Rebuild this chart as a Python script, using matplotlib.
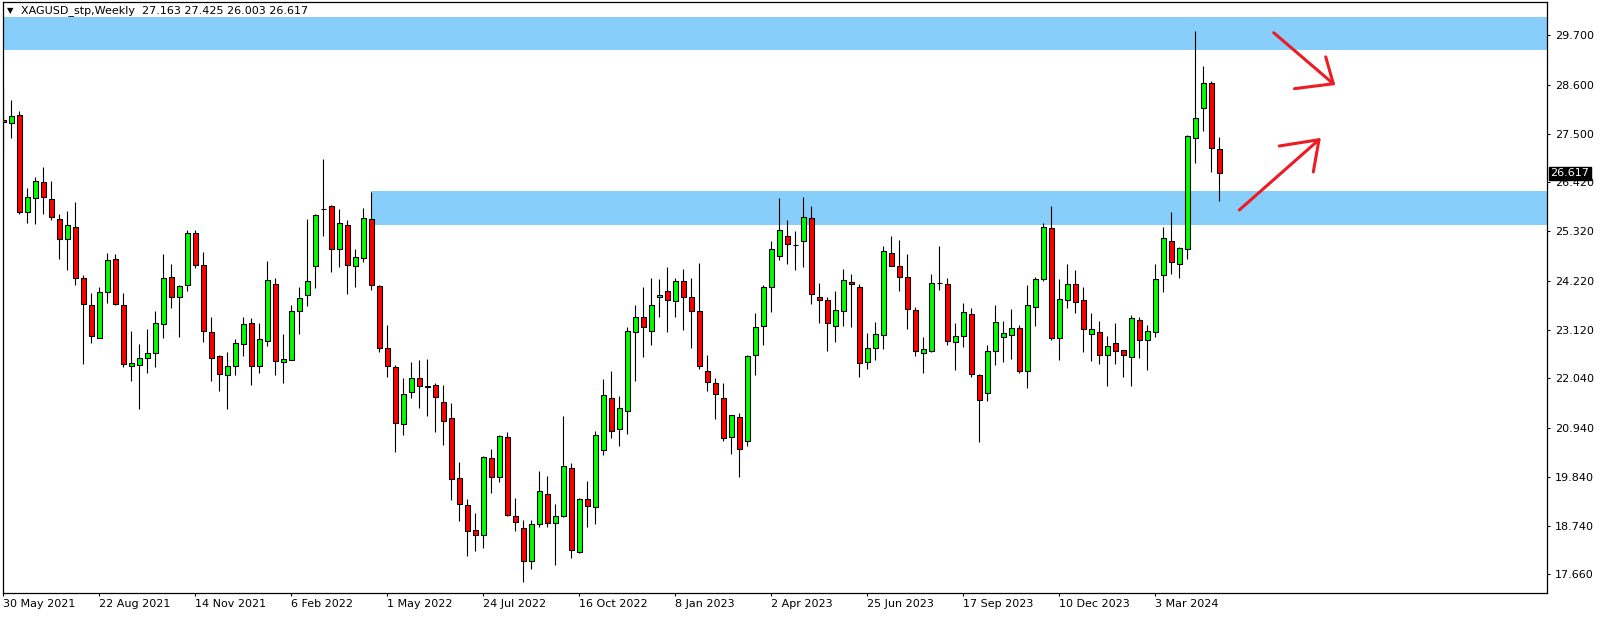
import matplotlib
matplotlib.use('Agg')
import matplotlib.pyplot as plt
import matplotlib.transforms as mtransforms
import numpy as np

# weekly OHLC, XAGUSD, one bar per week starting 30 May 2021
opens = [27.80, 27.74, 27.92, 25.75, 26.07, 26.42, 26.04, 25.59, 25.16, 25.43,
         24.29, 23.68, 22.93, 23.97, 24.71, 23.68, 22.31, 22.33, 22.49, 22.61,
         23.25, 24.31, 23.86, 24.13, 25.29, 24.58, 23.08, 22.54, 22.12, 22.31,
         22.80, 23.28, 22.31, 22.87, 24.15, 22.40, 22.46, 23.55, 23.90, 24.56,
         25.82, 25.88, 24.93, 25.47, 24.56, 24.72, 25.59, 24.11, 22.72, 22.29,
         21.01, 21.73, 22.04, 21.86, 21.88, 21.51, 21.16, 19.82, 19.21, 18.65,
         18.54, 20.27, 19.84, 20.72, 18.96, 18.70, 17.97, 18.78, 19.46, 18.81,
         18.96, 20.04, 18.16, 19.35, 19.17, 20.43, 21.59, 20.90, 21.32, 23.08,
         23.41, 23.10, 23.85, 24.00, 23.77, 24.22, 23.86, 23.55, 22.20, 21.93,
         21.60, 20.74, 21.17, 20.63, 22.55, 23.21, 24.07, 24.78, 25.23, 25.02,
         25.10, 25.61, 23.86, 23.79, 23.21, 23.55, 24.19, 24.08, 22.41, 22.72,
         23.01, 24.84, 24.56, 24.31, 23.57, 22.61, 22.66, 24.175, 24.15, 22.85,
         22.98, 23.48, 22.11, 21.71, 22.65, 22.96, 23.01, 23.16, 22.20, 23.64,
         24.26, 25.39, 22.93, 23.79, 24.15, 23.79, 23.03, 23.08, 22.56, 22.83,
         22.67, 22.52, 23.34, 22.90, 23.08, 24.35, 25.11, 24.60, 24.93, 27.40,
         28.08, 28.64, 27.163]
highs = [28.53, 28.26, 28.02, 26.29, 26.53, 26.76, 26.45, 25.72, 25.78, 25.98,
         24.34, 23.94, 24.09, 24.83, 24.81, 23.94, 23.10, 22.81, 23.15, 23.55,
         24.81, 24.59, 24.13, 25.36, 25.36, 24.86, 23.41, 22.55, 22.63, 22.91,
         23.40, 23.38, 23.28, 24.67, 24.27, 23.02, 23.68, 24.07, 25.59, 25.71,
         26.94, 25.91, 25.82, 25.57, 24.92, 25.84, 26.20, 24.13, 23.23, 22.33,
         22.04, 22.40, 22.44, 22.48, 21.94, 21.90, 21.49, 20.16, 19.35, 19.04,
         20.31, 20.46, 20.78, 20.84, 19.37, 18.88, 18.88, 19.96, 19.86, 19.24,
         21.20, 20.14, 19.37, 19.74, 20.87, 22.03, 22.21, 21.64, 23.19, 23.67,
         24.09, 24.27, 24.25, 24.52, 24.27, 24.48, 24.27, 24.61, 22.56, 22.05,
         21.93, 21.23, 21.27, 22.57, 23.49, 24.13, 25.11, 26.07, 25.58, 25.33,
         26.10, 25.88, 24.18, 23.86, 23.98, 24.49, 24.37, 24.15, 23.06, 23.29,
         24.99, 25.23, 25.12, 24.81, 23.64, 22.97, 24.37, 24.99, 24.27, 23.27,
         23.73, 23.62, 22.14, 22.79, 23.67, 23.31, 23.58, 23.22, 24.12, 24.31,
         25.51, 25.88, 24.25, 24.59, 24.45, 24.07, 23.51, 23.31, 22.99, 23.28,
         22.68, 23.46, 23.42, 23.23, 24.60, 25.41, 25.76, 24.98, 27.48, 29.79,
         29.01, 28.69, 27.425]
lows = [26.99, 27.40, 25.71, 25.51, 25.49, 25.71, 25.57, 24.71, 24.45, 24.13,
        22.35, 22.82, 22.93, 23.72, 23.68, 22.29, 21.99, 21.36, 22.15, 22.29,
        22.95, 23.60, 22.97, 23.99, 24.50, 22.86, 21.99, 21.75, 21.36, 22.12,
        22.53, 21.90, 22.16, 22.76, 22.11, 21.94, 22.44, 23.03, 23.65, 24.06,
        25.23, 24.42, 24.53, 23.92, 24.08, 24.64, 24.02, 22.63, 22.06, 20.40,
        20.77, 21.61, 21.38, 21.20, 20.84, 20.54, 19.32, 18.85, 18.07, 18.18,
        18.25, 19.48, 19.73, 18.96, 18.64, 17.48, 17.77, 18.72, 18.72, 17.88,
        18.94, 18.02, 18.14, 18.72, 18.79, 20.33, 20.70, 20.53, 20.80, 21.97,
        22.51, 22.79, 23.40, 23.08, 23.40, 23.12, 22.71, 22.24, 21.76, 21.13,
        20.65, 20.35, 19.84, 20.53, 22.11, 22.78, 23.52, 24.68, 24.59, 24.45,
        24.53, 23.70, 23.28, 22.64, 22.86, 23.21, 23.18, 22.06, 22.24, 22.45,
        22.70, 24.54, 23.99, 23.15, 22.53, 22.17, 22.62, 24.01, 22.78, 22.23,
        22.74, 22.06, 20.62, 21.53, 22.33, 22.40, 22.48, 22.16, 21.83, 23.21,
        24.21, 22.89, 22.46, 23.61, 23.49, 22.63, 22.42, 22.35, 21.87, 22.35,
        22.07, 21.87, 22.50, 22.22, 22.97, 23.96, 24.37, 24.28, 24.71, 26.84,
        27.56, 26.64, 26.003]
closes = [27.77, 27.90, 25.75, 26.08, 26.45, 26.08, 25.64, 25.16, 25.46, 24.29,
          23.70, 22.99, 23.97, 24.69, 23.70, 22.36, 22.38, 22.49, 22.61, 23.28,
          24.29, 23.85, 24.11, 25.28, 24.58, 23.10, 22.49, 22.14, 22.31, 22.83,
          23.26, 22.31, 22.91, 24.24, 22.42, 22.47, 23.55, 23.83, 24.22, 25.68,
          25.83, 24.92, 25.50, 24.58, 24.74, 25.61, 24.13, 22.72, 22.31, 21.05,
          21.70, 22.04, 21.87, 21.85, 21.63, 21.09, 19.79, 19.24, 18.64, 18.54,
          20.29, 19.84, 20.76, 18.99, 18.83, 17.97, 18.78, 19.53, 18.81, 18.96,
          20.09, 18.21, 19.35, 19.19, 20.78, 21.66, 20.87, 21.37, 23.10, 23.41,
          23.18, 23.68, 23.91, 23.79, 24.22, 23.85, 23.54, 22.31, 21.95, 21.69,
          20.70, 21.21, 20.47, 22.54, 23.19, 24.07, 24.92, 25.35, 25.05, 25.01,
          25.64, 23.92, 23.79, 23.28, 23.57, 24.24, 24.14, 22.38, 22.72, 23.03,
          24.89, 24.56, 24.31, 23.59, 22.65, 22.69, 24.18, 24.165, 22.87, 22.98,
          23.52, 22.14, 21.55, 22.65, 23.30, 23.05, 23.16, 22.20, 23.68, 24.26,
          25.43, 22.93, 23.82, 24.15, 23.75, 23.14, 23.14, 22.56, 22.76, 22.65,
          22.56, 23.39, 22.90, 23.09, 24.26, 25.17, 24.64, 24.94, 27.46, 27.85,
          28.64, 27.18, 26.617]

date_labels = ['30 May 2021', '22 Aug 2021', '14 Nov 2021', '6 Feb 2022', '1 May 2022',
               '24 Jul 2022', '16 Oct 2022', '8 Jan 2023', '2 Apr 2023', '25 Jun 2023',
               '17 Sep 2023', '10 Dec 2023', '3 Mar 2024']
price_ticks = [17.66, 18.74, 19.84, 20.94, 22.04, 23.12, 24.22, 25.32, 26.42, 27.50, 28.60, 29.70]
last_price = 26.617

# zones (price ranges) and the hand drawn arrows (bar index, price)
upper_zone = (29.372, 30.102)
lower_zone = (25.46, 26.226)
lower_zone_start = 45.9
arrow1_shaft = ([158.8, 166.25], [29.76, 28.62])
arrow1_head = ([161.4, 166.25, 165.3], [28.51, 28.62, 29.22])
arrow2_shaft = ([154.5, 164.46], [25.80, 27.37])
arrow2_head = ([159.5, 164.46, 163.75], [27.23, 27.37, 26.65])

o = np.array(opens)
h = np.array(highs)
l = np.array(lows)
c = np.array(closes)
idx = np.arange(len(o))

W, H = 1604, 617
fig = plt.figure(figsize=(W / 100, H / 100), dpi=100)
ax = fig.add_axes([2.5 / W, (H - 593.3) / H, (1547 - 2.5) / W, (593.3 - 2) / H])

xlim = (-0.1, 192.96)
ax.set_xlim(*xlim)
ax.set_ylim(17.238, 30.446)

ax.axhspan(upper_zone[0], upper_zone[1], color='#87cefa', lw=0, zorder=0)
ax.fill_between([lower_zone_start, xlim[1]], lower_zone[0], lower_zone[1],
                color='#87cefa', lw=0, zorder=0)

ax.vlines(idx, l, h, color='black', lw=0.8, zorder=2)
colors = np.where(c >= o, '#00ff00', '#ff0000')
body = np.maximum(np.abs(c - o), 0.012)
ax.bar(idx, body, bottom=np.minimum(o, c), width=0.56, color=colors,
       edgecolor='black', linewidth=0.8, zorder=3)

for xs, ys in [arrow1_shaft, arrow1_head, arrow2_shaft, arrow2_head]:
    ax.plot(xs, ys, color='#ed1c24', lw=2.2, solid_capstyle='round',
            solid_joinstyle='round', zorder=4)

ax.yaxis.tick_right()
ax.set_yticks(price_ticks)
ax.set_yticklabels(['%.3f' % v for v in price_ticks])
ax.set_xticks(np.arange(len(date_labels)) * 12)
ax.set_xticklabels(date_labels)
for lbl in ax.get_xticklabels():
    lbl.set_horizontalalignment('left')
ax.tick_params(axis='y', direction='out', length=2.5, width=0.75, pad=3, labelsize=8)
ax.tick_params(axis='x', direction='out', length=2.5, width=0.75, pad=1.5, labelsize=8)
for s in ax.spines.values():
    s.set_linewidth(0.9)

trans = mtransforms.blended_transform_factory(ax.transAxes, ax.transData)
ax.annotate('%.3f' % last_price, xy=(1, last_price), xycoords=trans,
            xytext=(2.6, 0), textcoords='offset points', va='center', ha='left',
            color='white', fontsize=8, annotation_clip=False, zorder=10,
            bbox=dict(boxstyle='square,pad=0.12', fc='black', ec='black'))

fig.text(10 / W, 1 - 11 / H, '\u25bc', fontsize=6, ha='center', va='center')
fig.text(21 / W, 1 - 11 / H, 'XAGUSD_stp,Weekly  27.163 27.425 26.003 26.617',
         fontsize=8, ha='left', va='center')

fig.savefig('out.png', dpi=100)
